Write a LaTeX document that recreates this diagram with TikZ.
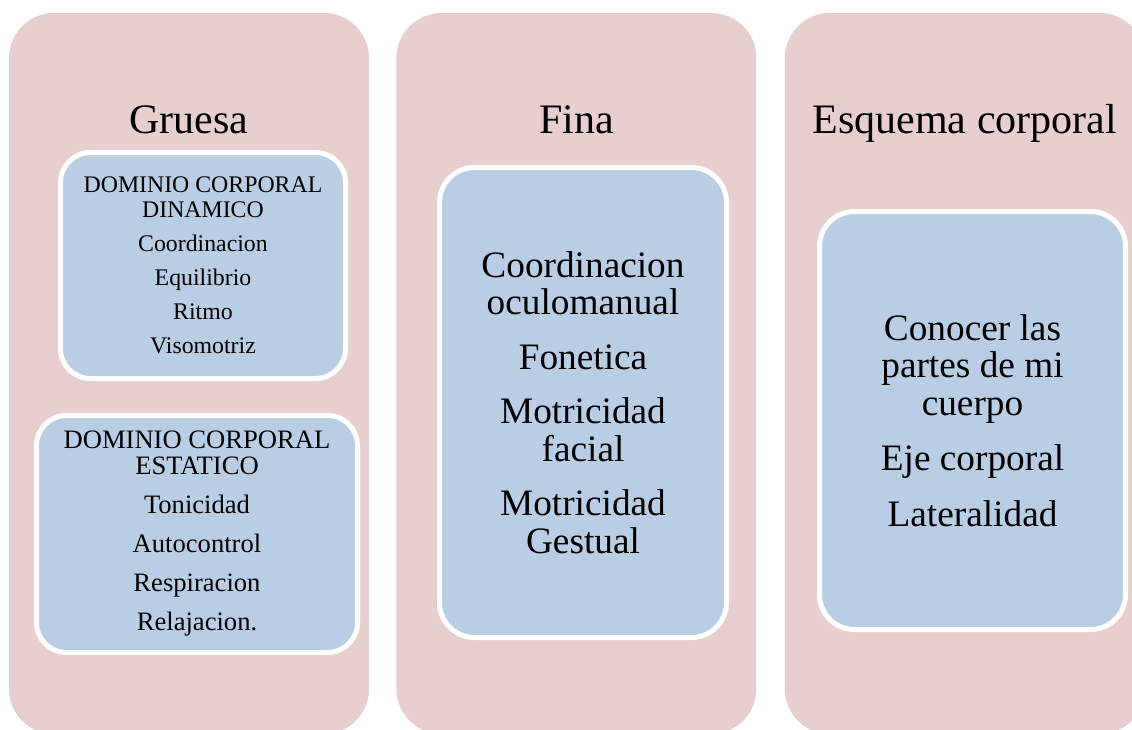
\documentclass[tikz,border=0pt]{standalone}
\usepackage{fontspec}
\setmainfont{Liberation Serif}
\usepackage{tikz}
\usetikzlibrary{positioning,calc}
\definecolor{colpink}{RGB}{231,207,207}
\definecolor{cardblue}{RGB}{185,205,228}
\tikzset{
    column/.style={rectangle, fill=colpink, rounded corners=45pt, minimum width=360pt, minimum height=721pt, inner sep=0pt},
    heading/.style={anchor=base, inner sep=0pt, font=\fontsize{42}{46}\selectfont},
    card/.style={rectangle, draw=white, fill=cardblue, line width=5pt, rounded corners=30pt, align=center, inner sep=0pt},
    smalltxt/.style={font=\fontsize{23.8}{25}\selectfont},
    midtxt/.style={font=\fontsize{26.6}{26}\selectfont},
    bigtxt/.style={font=\fontsize{37.3}{37.5}\selectfont}
}

\begin{document}
\begin{tikzpicture}[x=1pt, y=-1pt]
    \useasboundingbox (0,0) rectangle (1132,729);
    % columns
    \node [column] (gruesa) at (189,373.5) {};
    \node [column, right=27pt of gruesa] (fina) {};
    \node [column, right=28pt of fina] (esquema) {};

    \node [heading] (tgruesa) at ([yshift=-121pt]gruesa.north) {Gruesa};
    \node [heading] (tfina) at ([yshift=-121pt]fina.north) {Fina};
    \node [heading] (tesquema) at ([yshift=-121pt]esquema.north) {Esquema corporal};

    % cards
    \node [card, smalltxt, minimum width=285pt, minimum height=226pt] (dinamico) at (203,265.5)
        {DOMINIO CORPORAL\\DINAMICO\\[9pt]Coordinacion\\[9pt]Equilibrio\\[9pt]Ritmo\\[9pt]Visomotriz};
    \node [card, midtxt, minimum width=321pt, minimum height=237pt] (estatico) at (197,534)
        {DOMINIO CORPORAL\\ESTATICO\\[13pt]Tonicidad\\[13pt]Autocontrol\\[13pt]Respiracion\\[13pt]Relajacion.};
    \node [card, bigtxt, rounded corners=35pt, minimum width=287pt, minimum height=470pt] (finacard) at (583,402.5)
        {Coordinacion\\oculomanual\\[17pt]Fonetica\\[17pt]Motricidad\\facial\\[17pt]Motricidad\\Gestual};
    \node [card, bigtxt, rounded corners=35pt, minimum width=306pt, minimum height=418pt] (esqcard) at (972.5,420.5)
        {Conocer las\\partes de mi\\cuerpo\\[18pt]Eje corporal\\[18pt]Lateralidad};
\end{tikzpicture}
\end{document}
